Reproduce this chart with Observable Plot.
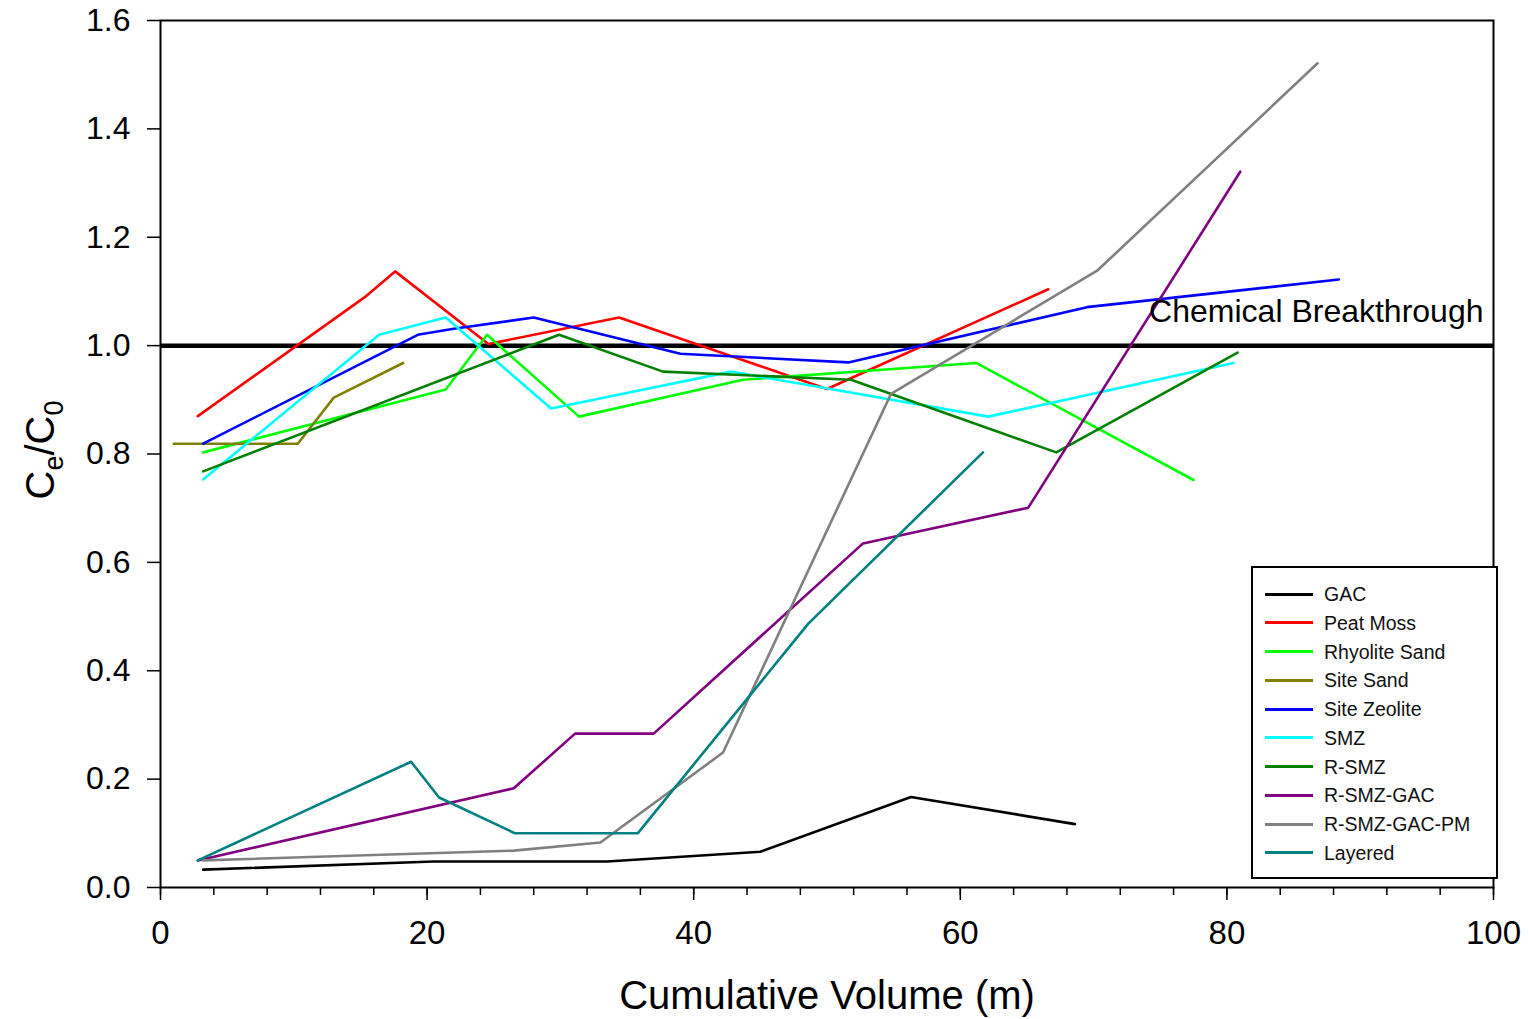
<!DOCTYPE html>
<html>
<head>
<meta charset="utf-8">
<script src="https://cdn.jsdelivr.net/npm/d3@7"></script>
<script src="https://cdn.jsdelivr.net/npm/@observablehq/plot@0.6"></script>
<style>
  html, body { margin: 0; padding: 0; background: white; }
  #wrap { position: relative; width: 1529px; height: 1019px; font-family: "Liberation Sans", Arial, sans-serif; }
  #legend { position: absolute; left: 1251px; top: 566px; width: 243px; height: 309px; border: 2px solid black; background: white; box-sizing: content-box; }
  .row { position: absolute; left: 0; height: 28px; }
  .swatch { position: absolute; left: 12px; width: 48px; height: 0; border-top: 3px solid; }
  .lab { position: absolute; left: 71px; font-size: 19.5px; white-space: nowrap; color: #111; }
</style>
</head>
<body>
<div id="wrap"><div id="legend"></div></div>
<script>
// ---- data ----
const seriesNames = ["GAC", "Peat Moss", "Rhyolite Sand", "Site Sand", "Site Zeolite", "SMZ", "R-SMZ", "R-SMZ-GAC", "R-SMZ-GAC-PM", "Layered"];
const seriesColors = ["#000000", "#ff0000", "#00ff00", "#808000", "#0000ff", "#00ffff", "#008000", "#800080", "#808080", "#008080"];

const gac = [[3.2,0.033],[20.5,0.048],[33.5,0.048],[45,0.066],[56.3,0.167],[68.6,0.117]];
const peatMoss = [[2.8,0.87],[15.3,1.089],[17.6,1.137],[24.6,1.003],[34.4,1.052],[50,0.92],[66.6,1.104]];
const rhyoliteSand = [[3.2,0.803],[21.4,0.919],[24.5,1.02],[31.4,0.869],[43.7,0.937],[61.2,0.968],[77.5,0.752]];
const siteSand = [[1.0,0.819],[10.3,0.819],[13.0,0.904],[18.2,0.968]];
const siteZeolite = [[3.2,0.819],[19.3,1.02],[22,1.031],[28,1.052],[39,0.985],[51.6,0.969],[69.5,1.071],[88.4,1.122]];
const smz = [[3.2,0.753],[16.4,1.02],[21.4,1.052],[29.3,0.884],[42.8,0.952],[62.1,0.869],[80.5,0.968]];
const rSmz = [[3.2,0.768],[29.9,1.02],[37.7,0.952],[51.8,0.937],[67.2,0.803],[80.8,0.987]];
const rSmzGac = [[2.8,0.05],[26.5,0.183],[31.1,0.284],[37,0.284],[52.7,0.635],[65.1,0.701],[81,1.321]];
const rSmzGacPm = [[3.2,0.05],[26.5,0.068],[33,0.083],[42.2,0.249],[54.8,0.911],[70.3,1.139],[86.8,1.521]];
const layered = [[2.8,0.05],[18.8,0.232],[20.9,0.166],[26.6,0.1],[35.8,0.1],[48.6,0.487],[61.7,0.803]];

const seriesData = [gac, peatMoss, rhyoliteSand, siteSand, siteZeolite, smz, rSmz, rSmzGac, rSmzGacPm, layered];

const breakthrough = 1.0;
const breakthroughLabel = "Chemical Breakthrough";
const xMajorTicks = [0, 20, 40, 60, 80, 100];
const xMinorTicks = d3.range(0, 101, 4);
const yTicks = [0, 0.2, 0.4, 0.6, 0.8, 1.0, 1.2, 1.4, 1.6];
const xLabel = "Cumulative Volume (m)";

// ---- build table ----
const rows = [];
seriesData.forEach((arr, i) => arr.forEach(([x, y]) => rows.push({series: seriesNames[i], x, y})));

const font = '"Liberation Sans", Arial, sans-serif';

const chart = Plot.plot({
  width: 1529,
  height: 1019,
  marginLeft: 160,
  marginRight: 36,
  marginTop: 20,
  marginBottom: 132,
  style: {fontFamily: font, background: "white", color: "black"},
  x: {domain: [0, 100]},
  y: {domain: [0, 1.6]},
  color: {domain: seriesNames, range: seriesColors},
  marks: [
    Plot.ruleY([breakthrough], {stroke: "black", strokeWidth: 4.5}),
    Plot.line(rows, {x: "x", y: "y", z: "series", stroke: "series", strokeWidth: 2.6}),
    Plot.frame({stroke: "black", strokeWidth: 2}),
    Plot.axisX({ticks: xMinorTicks, tickSize: 8, tickFormat: () => "", label: null, strokeWidth: 1.5}),
    Plot.axisX({ticks: xMajorTicks, tickSize: 13, tickPadding: 20, fontSize: 33, label: null, strokeWidth: 1.5, tickFormat: d => String(d)}),
    Plot.axisY({ticks: yTicks, tickSize: 13, tickPadding: 17, fontSize: 32, label: null, strokeWidth: 1.5, tickFormat: d3.format(".1f")}),
    Plot.text([breakthrough], {y: d => d, text: () => breakthroughLabel, frameAnchor: "right", textAnchor: "end", dx: -10, dy: -34, fontSize: 32, fill: "black"}),
    Plot.text([xLabel], {text: d => d, frameAnchor: "bottom", dy: 121, fontSize: 40, fill: "black"})
  ]
});

const svg = d3.select(chart);
const yl = svg.append("text")
  .attr("transform", "translate(54,450) rotate(-90)")
  .attr("text-anchor", "middle")
  .attr("font-family", font)
  .attr("font-size", 40)
  .attr("fill", "black");
yl.append("tspan").text("C");
yl.append("tspan").attr("font-size", 27).attr("dy", 9).text("e");
yl.append("tspan").attr("dy", -9).text("/C");
yl.append("tspan").attr("font-size", 27).attr("dy", 9).text("0");

const wrap = document.getElementById("wrap");
wrap.insertBefore(chart, wrap.firstChild);

// ---- legend ----
const legend = document.getElementById("legend");
seriesNames.forEach((name, i) => {
  const row = document.createElement("div");
  row.className = "row";
  row.style.top = (12 + i * 28.75) + "px";
  const sw = document.createElement("div");
  sw.className = "swatch";
  sw.style.borderTopColor = seriesColors[i];
  sw.style.top = "12.5px";
  const lab = document.createElement("div");
  lab.className = "lab";
  lab.style.top = "3px";
  lab.textContent = name;
  row.appendChild(sw);
  row.appendChild(lab);
  legend.appendChild(row);
});
</script>
</body>
</html>
